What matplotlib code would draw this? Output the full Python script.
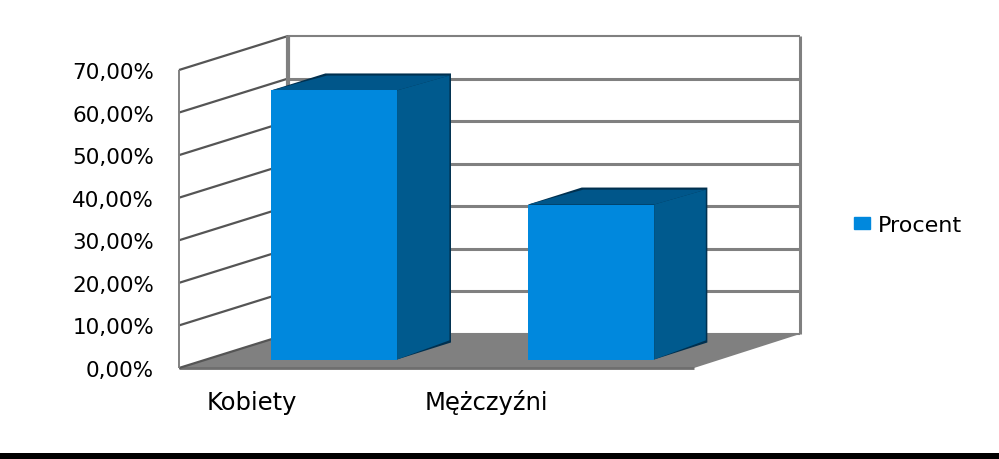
import matplotlib
matplotlib.use('Agg')
import matplotlib.pyplot as plt
from matplotlib.patches import Rectangle, Patch

categories = ['Kobiety', 'Mężczyźni']
values = [63.2, 36.4]
y_ticks = [0, 10, 20, 30, 40, 50, 60, 70]
y_labels = ['0,00%', '10,00%', '20,00%', '30,00%', '40,00%', '50,00%', '60,00%', '70,00%']
series_name = 'Procent'

W, H = 999, 460
FRONT = '#0088DD'
SIDE = '#005A8E'
TOP = '#00568A'
EDGE = '#00304F'
GREY = '#808080'

# how far the back wall sits from the front plane, in data units
# slightly less on the right, the back wall ends at x=800
DEPTH_X_LEFT = 109 / 257.5
DEPTH_X_RIGHT = 106 / 257.5
DEPTH_Y = 34 / (298 / 70)


def proj(x, y, d):
    t = (x + 0.5) / 2
    dx = DEPTH_X_LEFT + t * (DEPTH_X_RIGHT - DEPTH_X_LEFT)
    return x + d * dx, y + d * DEPTH_Y


def face(ax, corners, color, z):
    pts = [proj(*c) for c in corners]
    ax.fill([p[0] for p in pts], [p[1] for p in pts], color=color, lw=0, zorder=z, clip_on=False)


def line(ax, a, b, color=GREY, lw=2.2, z=2):
    pa, pb = proj(*a), proj(*b)
    ax.plot([pa[0], pb[0]], [pa[1], pb[1]], color=color, lw=lw, zorder=z, clip_on=False,
            solid_capstyle='butt')


plt.rcParams['font.family'] = ['DejaVu Sans']
fig = plt.figure(figsize=(W / 100, H / 100), dpi=100, facecolor='white')
ax = fig.add_axes([179 / W, (H - 369) / H, 515 / W, 298 / H])
ax.set_xlim(-0.5, 1.5)
ax.set_ylim(0, 70)
ax.patch.set_alpha(0)
for s in ax.spines.values():
    s.set_visible(False)

# floor
face(ax, [(-0.5, 0, 0), (-0.5, 0, 1), (1.5, 0, 1), (1.5, 0, 0)], GREY, 1)
line(ax, (-0.5, 0, 0), (1.5, 0, 0), '#6e6e6e', 2)

# walls and gridlines
for t in y_ticks:
    lw = 2.2
    if t == 0 or t == 70:
        lw = 1.5
    line(ax, (-0.5, t, 1), (1.5, t, 1), GREY, lw)
    line(ax, (-0.5, t, 0), (-0.5, t, 1), '#555555', 1.6)
line(ax, (-0.5, 0, 1), (-0.5, 70, 1), GREY, 3)
line(ax, (1.5, 0, 1), (1.5, 70, 1), GREY, 2.2)
line(ax, (-0.5, 0, 0), (-0.5, 70, 0), GREY, 1.4)

# bars, front face sits a quarter of the way in
d0, d1 = 0.25, 0.75
bw = 0.245
for i, v in enumerate(values):
    x0 = i - bw - 0.003
    x1 = i + bw - 0.003
    # dark outline behind side and top
    face(ax, [(x0, v, d0), (x0, v, d1), (x1, v, d1), (x1, 0, d1), (x1, 0, d0)], EDGE, 3)
    face(ax, [(x0, v, d0), (x0 + 0.006, v - 0.5, d1), (x1 - 0.006, v - 0.5, d1), (x1, v, d0)], TOP, 4)
    face(ax, [(x1, 0, d0), (x1 - 0.006, 0.5, d1), (x1 - 0.006, v - 0.5, d1), (x1, v, d0)], SIDE, 4)
    pf = proj(x0, 0, d0)
    ax.bar(pf[0], v, width=x1 - x0, bottom=pf[1], align='edge', color=FRONT, lw=0, zorder=5,
           clip_on=False)

ax.set_xticks([])
ax.set_yticks(y_ticks)
ax.set_yticklabels(y_labels, fontsize=15.5, color='black')
ax.tick_params(axis='y', length=0, pad=18)

# category labels sit left of their bars in the original
offsets = [-56, -79]
for i, name in enumerate(categories):
    ax.annotate(name, (i, 0), xytext=(offsets[i] * 0.72, -34 * 0.72), textcoords='offset points',
                ha='center', va='center', fontsize=17.5, color='black', annotation_clip=False)

fig.legend(handles=[Patch(color=FRONT, label=series_name)], loc='center left',
           bbox_to_anchor=(854 / W, (H - 226) / H), frameon=False, fontsize=16,
           handlelength=0.73, handleheight=0.5, handletextpad=0.36, borderpad=0, borderaxespad=0)

# black band along the bottom of the image
fig.add_artist(Rectangle((0, 0), 1, 6 / H, transform=fig.transFigure, color='black', lw=0))

fig.savefig('out.png', dpi=100)
